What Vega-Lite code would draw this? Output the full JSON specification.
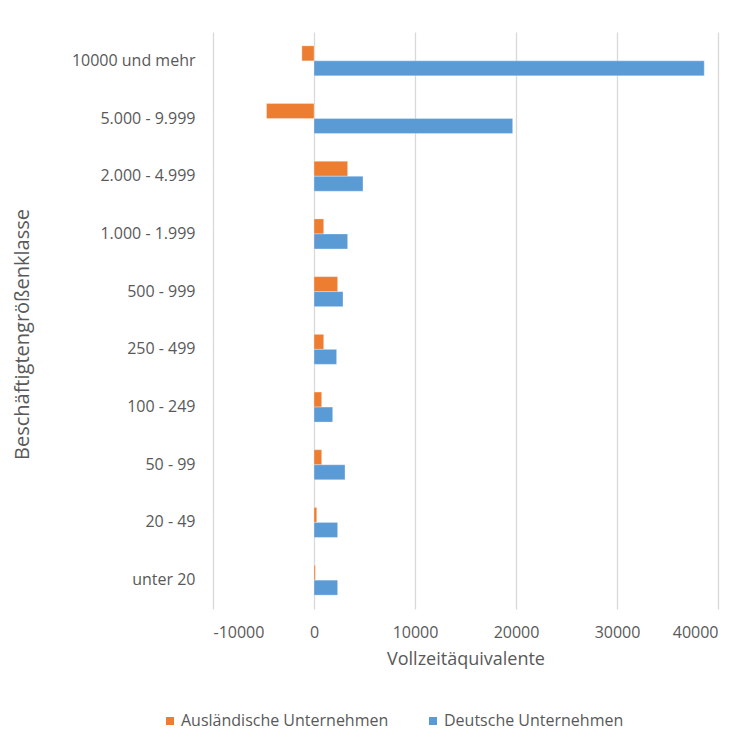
{
  "$schema": "https://vega.github.io/schema/vega-lite/v6.json",
  "autosize": "none",
  "width": 505,
  "height": 577,
  "padding": {"left": 213, "top": 32, "right": 36, "bottom": 136},
  "background": "white",
  "data": {
    "values": [
      {"klasse": "10000 und mehr", "typ": "Ausländische Unternehmen", "wert": -1200},
      {"klasse": "10000 und mehr", "typ": "Deutsche Unternehmen", "wert": 38640},
      {"klasse": "5.000 - 9.999", "typ": "Ausländische Unternehmen", "wert": -4700},
      {"klasse": "5.000 - 9.999", "typ": "Deutsche Unternehmen", "wert": 19670},
      {"klasse": "2.000 - 4.999", "typ": "Ausländische Unternehmen", "wert": 3330},
      {"klasse": "2.000 - 4.999", "typ": "Deutsche Unternehmen", "wert": 4850},
      {"klasse": "1.000 - 1.999", "typ": "Ausländische Unternehmen", "wert": 960},
      {"klasse": "1.000 - 1.999", "typ": "Deutsche Unternehmen", "wert": 3330},
      {"klasse": "500 - 999", "typ": "Ausländische Unternehmen", "wert": 2340},
      {"klasse": "500 - 999", "typ": "Deutsche Unternehmen", "wert": 2870},
      {"klasse": "250 - 499", "typ": "Ausländische Unternehmen", "wert": 960},
      {"klasse": "250 - 499", "typ": "Deutsche Unternehmen", "wert": 2240},
      {"klasse": "100 - 249", "typ": "Ausländische Unternehmen", "wert": 760},
      {"klasse": "100 - 249", "typ": "Deutsche Unternehmen", "wert": 1850},
      {"klasse": "50 - 99", "typ": "Ausländische Unternehmen", "wert": 760},
      {"klasse": "50 - 99", "typ": "Deutsche Unternehmen", "wert": 3070},
      {"klasse": "20 - 49", "typ": "Ausländische Unternehmen", "wert": 270},
      {"klasse": "20 - 49", "typ": "Deutsche Unternehmen", "wert": 2340},
      {"klasse": "unter 20", "typ": "Ausländische Unternehmen", "wert": 130},
      {"klasse": "unter 20", "typ": "Deutsche Unternehmen", "wert": 2340}
    ]
  },
  "mark": {"type": "bar", "stroke": "white", "strokeWidth": 0.5, "strokeOpacity": 0.6},
  "encoding": {
    "y": {
      "field": "klasse",
      "type": "nominal",
      "sort": ["10000 und mehr", "5.000 - 9.999", "2.000 - 4.999", "1.000 - 1.999", "500 - 999", "250 - 499", "100 - 249", "50 - 99", "20 - 49", "unter 20"],
      "scale": {"paddingInner": 0.48, "paddingOuter": 0.24},
      "axis": {
        "title": "Beschäftigtengrößenklasse",
        "domain": false,
        "ticks": false,
        "labelPadding": 18,
        "labelFont": "Open Sans",
        "labelFontSize": 16,
        "labelColor": "#595959",
        "titleFont": "Open Sans",
        "titleFontSize": 20,
        "titleFontWeight": "normal",
        "titleColor": "#595959",
        "titleX": -191,
        "titleY": 302,
        "titleAngle": -90,
        "titleAlign": "center",
        "titleBaseline": "middle"
      }
    },
    "yOffset": {
      "field": "typ",
      "type": "nominal",
      "sort": ["Ausländische Unternehmen", "Deutsche Unternehmen"]
    },
    "x": {
      "field": "wert",
      "type": "quantitative",
      "scale": {"domain": [-10000, 40000], "nice": false},
      "axis": {
        "title": "Vollzeitäquivalente",
        "values": [-10000, 0, 10000, 20000, 30000, 40000],
        "format": "d",
        "labelExpr": "replace(datum.label, '−', '-')",
        "domain": false,
        "ticks": false,
        "grid": true,
        "gridColor": "#d9d9d9",
        "gridWidth": 1.3,
        "labelPadding": 15,
        "labelFont": "Open Sans",
        "labelFontSize": 16,
        "labelColor": "#595959",
        "titleFont": "Open Sans",
        "titleFontSize": 18,
        "titleFontWeight": "normal",
        "titleColor": "#595959",
        "titlePadding": 10
      }
    },
    "color": {
      "field": "typ",
      "type": "nominal",
      "scale": {"domain": ["Ausländische Unternehmen", "Deutsche Unternehmen"], "range": ["#ED7D31", "#5B9BD5"]},
      "legend": {
        "title": null,
        "orient": "none",
        "direction": "horizontal",
        "legendX": -51,
        "legendY": 681,
        "symbolType": "square",
        "symbolSize": 64,
        "symbolStrokeWidth": 0,
        "symbolOffset": 0,
        "labelOffset": 3,
        "columnPadding": 36,
        "labelFont": "Open Sans",
        "labelFontSize": 16,
        "labelColor": "#595959",
        "labelLimit": 400
      }
    }
  },
  "config": {
    "view": {"stroke": null}
  }
}
